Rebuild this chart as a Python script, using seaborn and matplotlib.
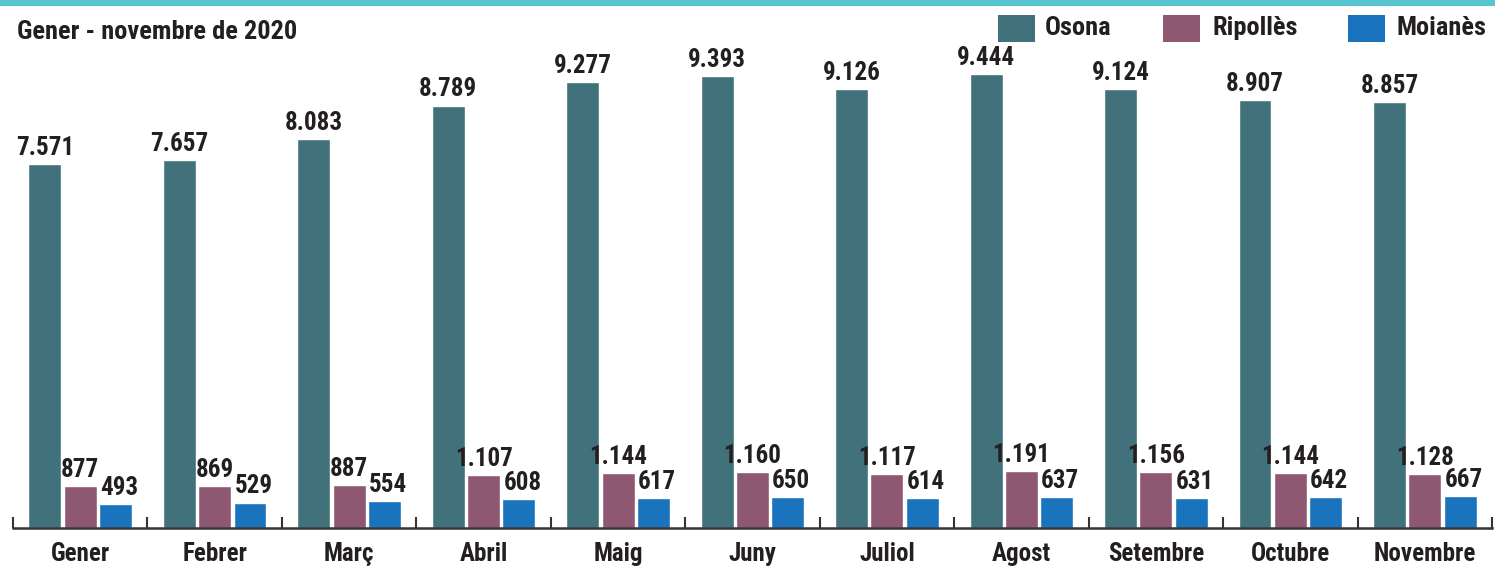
import matplotlib
matplotlib.use("Agg")
import matplotlib.pyplot as plt
import matplotlib.font_manager as fm
from matplotlib.patches import Rectangle
import numpy as np
import pandas as pd
import seaborn as sns

# data
months = ["Gener", "Febrer", "Març", "Abril", "Maig", "Juny", "Juliol",
          "Agost", "Setembre", "Octubre", "Novembre"]
osona = [7571, 7657, 8083, 8789, 9277, 9393, 9126, 9444, 9124, 8907, 8857]
ripolles = [877, 869, 887, 1107, 1144, 1160, 1117, 1191, 1156, 1144, 1128]
moianes = [493, 529, 554, 608, 617, 650, 614, 637, 631, 642, 667]
comarques = ["Osona", "Ripollès", "Moianès"]
colors = ["#41717b", "#8f5872", "#1a73bd"]
text_color = "#231f20"

df = pd.DataFrame({
    "mes": months * 3,
    "comarca": [c for c in comarques for _ in months],
    "valor": osona + ripolles + moianes,
})

sns.set_style("white")
# condensed bold sans, closest to the original
names = {f.name for f in fm.fontManager.ttflist}
font = next((f for f in ["Roboto Condensed", "Archivo Narrow", "Liberation Sans Narrow",
                         "Encode Sans Condensed"] if f in names), "Liberation Sans")
plt.rcParams["font.family"] = [font, "DejaVu Sans"]
plt.rcParams["font.weight"] = "bold"

fig = plt.figure(figsize=(14.95, 5.70), dpi=100)
ax = fig.add_axes([13 / 1495, 42 / 570, 1479 / 1495, 518 / 570])

sns.barplot(data=df, x="mes", y="valor", hue="comarca", palette=colors,
            width=0.7875, gap=0.067, saturation=1, legend=False, ax=ax)

for i, cont in enumerate(ax.containers):
    texts = ax.bar_label(cont, labels=[f"{v:,.0f}".replace(",", ".") for v in cont.datavalues],
                         padding=3, fontsize=18, fontweight="bold", color=text_color)
    if i == 2:
        # Moianès labels sit a little to the right in the original
        for t in texts:
            t.xyann = (2.5, t.xyann[1])

ax.set_xlim(-0.5, 10.5)
ax.set_ylim(0, 518 / 0.04807)
ax.set_xlabel("")
ax.set_ylabel("")
ax.set_yticks([])
ax.set_xticks(range(len(months)))
ax.set_xticklabels(months, fontsize=18, fontweight="bold", color=text_color)
ax.set_xticks(np.arange(-0.5, 11, 1), minor=True)
ax.tick_params(axis="x", which="major", length=0, pad=10)
ax.tick_params(axis="x", which="minor", direction="in", length=8, width=1.5,
               color="#333333", bottom=True)
for s in ["top", "left", "right"]:
    ax.spines[s].set_visible(False)
ax.spines["bottom"].set_color("#333333")
ax.spines["bottom"].set_linewidth(1.8)

# top band
fig.add_artist(Rectangle((0, 1 - 6 / 570), 1, 6 / 570, transform=fig.transFigure,
                         color="#55c4cf", lw=0))
fig.text(17 / 1495, 1 - 32 / 570, "Gener - novembre de 2020", fontsize=19,
         fontweight="bold", color=text_color, va="center", ha="left")

# legend
legend_x = [(998, 1045), (1163, 1213), (1348, 1397)]
for (sx, tx), name, col in zip(legend_x, comarques, colors):
    fig.add_artist(Rectangle((sx / 1495, 1 - 42 / 570), 37 / 1495, 27 / 570,
                             transform=fig.transFigure, color=col, lw=0))
    fig.text(tx / 1495, 1 - 28 / 570, name, fontsize=19, fontweight="bold",
             color=text_color, va="center", ha="left")

fig.savefig("out.png", dpi=100)
